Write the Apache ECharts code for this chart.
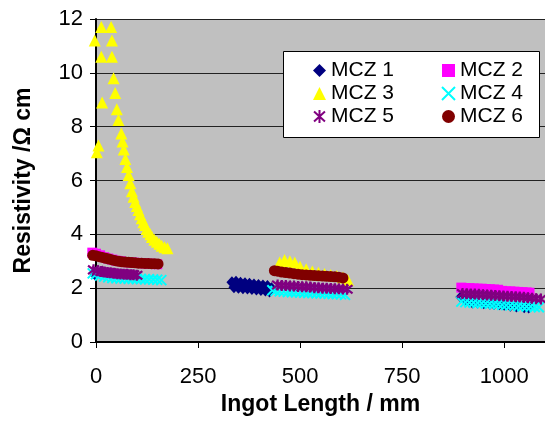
<!DOCTYPE html>
<html><head><meta charset="utf-8">
<script src="https://cdn.jsdelivr.net/npm/echarts@6/dist/echarts.min.js"></script>
<style>html,body{margin:0;padding:0;background:#fff}#c{width:545px;height:421px}</style>
</head><body><div id="c"></div>
<script>
const seriesNames = ['MCZ 1','MCZ 2','MCZ 3','MCZ 4','MCZ 5','MCZ 6'];
const xTicks = [0, 250, 500, 750, 1000];
const yTicks = [0, 2, 4, 6, 8, 10, 12];
const xTitle = 'Ingot Length / mm';
const yTitle = 'Resistivity /\u03A9 cm';

const mcz1 = [[-2,2.5],
  [333,2.22],[338,2.03],[343,2.24],[349,2.02],[354,2.2],[360,2.0],[365,2.18],[371,1.99],[376,2.16],[382,1.97],[387,2.14],[393,1.95],[398,2.12],[404,1.93],[409,2.1],[415,1.91],[420,2.08],[425,1.88],[430,2.0],
  [894,1.67],[905,1.55],[915,1.5],[922,1.47],[935,1.46],[950,1.44],[965,1.42],[975,1.41],[988,1.4],[1000,1.38],[1015,1.35],[1030,1.32],[1049,1.29],[1060,1.28]];
const mcz2 = [[-9,3.32],[0,3.28],[10,3.22],[20,3.15],[30,3.1],[40,3.06],[50,3.02],[60,3.0],[70,2.97],[80,2.96],[90,2.95],[100,2.94],[110,2.93],[120,2.92],[130,2.91],[140,2.9],[150,2.89],
  [895,2.02],[905,2.0],[915,2.0],[925,1.99],[935,1.98],[945,1.98],[955,1.97],[965,1.96],[975,1.95],[985,1.94],[995,1.9],[1005,1.88],[1015,1.88],[1025,1.87],[1035,1.86],[1045,1.85],[1055,1.84],[1062,1.83]];
const mcz3 = [[-3,11.2],[13,11.7],[37,11.7],[39,11.2],[13,10.6],[39,10.6],[43,9.8],[47,9.25],[15,8.9],[51,8.65],[55,8.25],[6,7.3],[2,7.05],
  [62,7.75],[65,7.45],[68,7.15],[72,6.8],[76,6.5],[80,6.2],[84,5.9],[88,5.6],[92,5.4],[96,5.2],[100,5.05],[104,4.9],[108,4.75],[112,4.6],[116,4.45],[120,4.35],[124,4.2],[128,4.1],[133,4.0],[137,3.9],[143,3.8],[149,3.72],[155,3.65],[161,3.58],[168,3.52],[175,3.48],
  [450,2.95],[462,3.05],[475,3.0],[487,2.95],[500,2.8],[515,2.7],[530,2.62],[545,2.57],[560,2.53],[575,2.49],[590,2.45],[605,2.4],[617,2.3]];
const mcz4 = [[-8,2.55],[0,2.52],[10,2.47],[20,2.43],[30,2.4],[40,2.38],[50,2.37],[60,2.36],[70,2.36],[80,2.35],[90,2.35],[100,2.34],[110,2.34],[120,2.33],[130,2.33],[140,2.32],[150,2.31],[160,2.3],
  [432,1.92],[440,1.9],[450,1.88],[460,1.87],[470,1.86],[480,1.85],[490,1.85],[500,1.84],[510,1.83],[520,1.82],[530,1.82],[540,1.81],[550,1.8],[560,1.8],[570,1.79],[580,1.78],[590,1.78],[600,1.77],[610,1.75],
  [895,1.5],[905,1.48],[915,1.47],[925,1.46],[935,1.45],[945,1.44],[955,1.43],[965,1.42],[975,1.41],[985,1.4],[995,1.38],[1005,1.37],[1015,1.36],[1025,1.35],[1035,1.34],[1045,1.33],[1055,1.32],[1065,1.31],[1075,1.3],[1085,1.29]];
const mcz5 = [[-6,2.68],[4,2.65],[12,2.62],[20,2.6],[28,2.58],[36,2.57],[44,2.55],[52,2.54],[60,2.53],[68,2.52],[76,2.52],[84,2.5],[92,2.5],[100,2.48],
  [445,2.12],[455,2.1],[465,2.1],[475,2.08],[485,2.08],[495,2.06],[505,2.05],[515,2.05],[525,2.04],[535,2.02],[545,2.02],[555,2.0],[565,2.0],[575,1.99],[585,1.98],[595,1.98],[605,1.97],[615,1.96],
  [898,1.8],[908,1.79],[918,1.78],[928,1.78],[938,1.77],[948,1.76],[958,1.75],[968,1.74],[978,1.73],[988,1.72],[998,1.71],[1008,1.7],[1018,1.69],[1028,1.68],[1038,1.67],[1048,1.66],[1058,1.64],[1068,1.63],[1078,1.61],[1090,1.6]];
const mcz6 = [[-8,3.22],[0,3.2],[8,3.17],[16,3.14],[24,3.11],[32,3.08],[40,3.05],[48,3.02],[56,3.0],[64,2.98],[72,2.97],[80,2.96],[88,2.95],[96,2.94],[104,2.93],[112,2.93],[120,2.92],[128,2.92],[136,2.91],[144,2.91],[152,2.9],
  [437,2.65],[445,2.63],[455,2.6],[465,2.58],[475,2.56],[485,2.54],[495,2.52],[505,2.5],[515,2.49],[525,2.48],[535,2.47],[545,2.46],[555,2.45],[565,2.44],[575,2.43],[585,2.42],[595,2.41],[605,2.38]];

const starPath = 'path://M5,0L5,10M0.8,1.2L9.2,8.8M0.8,8.8L9.2,1.2';
const xPath = 'path://M0,0L10,10M0,10L10,0';
const dataSets = [mcz1, mcz2, mcz3, mcz4, mcz5, mcz6];
const styles = [
  {symbol:'diamond', symbolSize:[11,12], itemStyle:{color:'#000080', opacity:1}},
  {symbol:'rect', symbolSize:10, itemStyle:{color:'#ff00ff', opacity:1}},
  {symbol:'triangle', symbolSize:[12,12], itemStyle:{color:'#ffff00', opacity:1}},
  {symbol:xPath, symbolSize:10, itemStyle:{color:'rgba(0,0,0,0)', borderColor:'#00ffff', borderWidth:2, opacity:1}},
  {symbol:starPath, symbolSize:11, itemStyle:{color:'rgba(0,0,0,0)', borderColor:'#800080', borderWidth:2.2, opacity:1}},
  {symbol:'circle', symbolSize:11, itemStyle:{color:'#800000', opacity:1}}
];
const series = seriesNames.map((n,i) => Object.assign({
  name:n, type:'scatter', data:dataSets[i], clip:false, z:2+i*0.01,
  emphasis:{disabled:true}, animation:false
}, styles[i]));

const font = 'Liberation Sans, Arial, sans-serif';
const legendCommon = {
  orient:'vertical', top:55, itemGap:2, itemWidth:13, itemHeight:13, z:10,
  textStyle:{fontSize:21, color:'#000', fontFamily:font}, selectedMode:false
};
const chart = echarts.init(document.getElementById('c'), null, {renderer:'canvas'});
chart.setOption({
  backgroundColor:'#fff',
  animation:false,
  grid:{left:96, top:19, right:-1, bottom:79, show:true, backgroundColor:'#c0c0c0', borderWidth:0},
  graphic:[{type:'rect', z:8, shape:{x:283.5, y:51.5, width:256, height:86}, style:{fill:'#fff', stroke:'#000', lineWidth:1}}],
  legend:[
    Object.assign({left:308, data:[seriesNames[0], seriesNames[2], seriesNames[4]]}, legendCommon),
    Object.assign({left:436, data:[seriesNames[1], seriesNames[3], seriesNames[5]]}, legendCommon)
  ],
  xAxis:{
    type:'value', min:xTicks[0], max:1100, interval:xTicks[1]-xTicks[0],
    name:xTitle, nameLocation:'middle', nameGap:50,
    nameTextStyle:{fontSize:23, fontWeight:'bold', color:'#000', fontFamily:font},
    axisLine:{show:true, lineStyle:{color:'#000', width:2}},
    axisTick:{show:true, length:6, lineStyle:{color:'#000', width:1}},
    axisLabel:{fontSize:22, color:'#000', fontFamily:font, margin:24, showMaxLabel:false,
      formatter:v => String(v)},
    splitLine:{show:false}
  },
  yAxis:{
    type:'value', min:yTicks[0], max:yTicks[yTicks.length-1], interval:yTicks[1]-yTicks[0],
    name:yTitle, nameLocation:'middle', nameGap:61,
    nameTextStyle:{fontSize:23, fontWeight:'bold', color:'#000', fontFamily:font},
    axisLine:{show:true, lineStyle:{color:'#000', width:2}},
    axisTick:{show:true, length:6, lineStyle:{color:'#000', width:1}},
    axisLabel:{fontSize:22, color:'#000', fontFamily:font, margin:13, formatter:v => String(v)},
    splitLine:{show:true, lineStyle:{color:'#222', width:1}}
  },
  series:series
});
</script></body></html>
